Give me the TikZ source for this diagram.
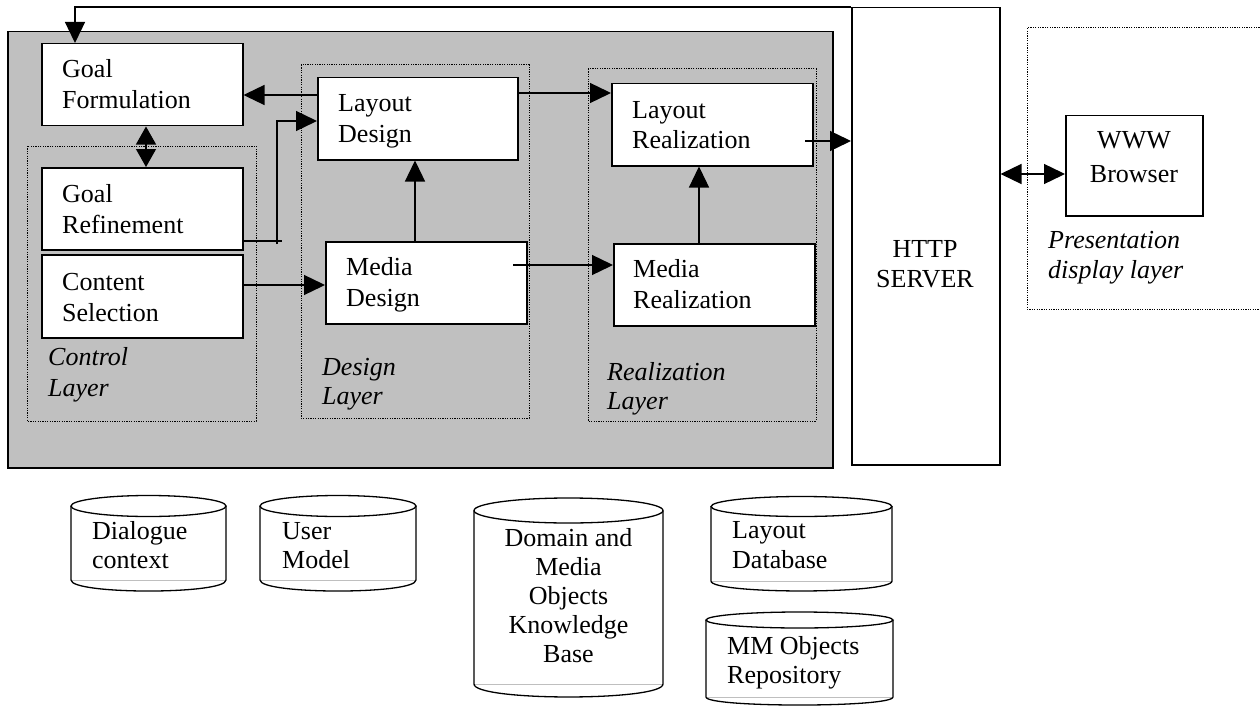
\documentclass[tikz,border=0pt]{standalone}
\usepackage{fontspec}
\setmainfont{Liberation Serif}
\usetikzlibrary{arrows.meta}
\definecolor{panel}{RGB}{192,192,192}
% two left-aligned lines, anchored at the first baseline
\newcommand\lft[3][31pt]{\vtop{\baselineskip=#1\hbox{#2}\hbox{#3}}}
% centred lines separated by \cr, anchored at the first baseline
\newcommand\ctr[2]{\vtop{\baselineskip=#1\halign{\hfil##\hfil\cr#2\crcr}}}
\tikzset{
  box/.style={draw, line width=1.5pt, fill=white, anchor=north west, inner sep=0pt},
  txt/.style={anchor=base west, inner sep=0pt, font=\fontsize{26}{31}\selectfont},
  ctxt/.style={anchor=base, inner sep=0pt, font=\fontsize{26}{31}\selectfont},
  lbl/.style={txt, font=\fontsize{26}{31}\selectfont\itshape},
  layer/.style={draw, line width=1pt, dash pattern=on 1.2pt off 1.2pt},
  conn/.style={line width=1.3pt},
  tip/.tip={Triangle[length=21pt,width=20pt]},
  shorttip/.tip={Triangle[length=18pt,width=20pt]},
  arr/.style={conn, -tip},
  darr/.style={conn, tip-tip},
  sdarr/.style={conn, shorttip-shorttip},
  cyl/.style={line width=1.3pt},
  back/.style={draw=black!25, line width=0.8pt},
}
\begin{document}
\begin{tikzpicture}[x=1pt,y=-1pt]
\useasboundingbox (0,0) rectangle (1260,706);

% generation engine panel
\node[draw, fill=panel, line width=1.5pt, anchor=north west, inner sep=0pt,
      minimum width=825pt, minimum height=436pt] (engine) at (7,31) {};

% layer frames
\draw[layer] (27,146) rectangle (256,421);
\draw[layer] (301,65) rectangle (529,418);
\draw[layer] (588,69) rectangle (816,421);
\draw[layer] (1262,28) -- (1027,28) -- (1027,309) -- (1262,309);

% components
\node[box, minimum width=201pt, minimum height=82pt] (gf) at (41,43) {};
\node[box, minimum width=201pt, minimum height=82pt] (gr) at (41,167) {};
\node[box, minimum width=201pt, minimum height=83pt] (cs) at (41,254) {};
\node[box, minimum width=200pt, minimum height=82pt] (ld) at (317,77) {};
\node[box, minimum width=201pt, minimum height=82pt] (md) at (325,241) {};
\node[box, minimum width=201pt, minimum height=82pt] (lr) at (611,83) {};
\node[box, minimum width=201pt, minimum height=82pt] (mr) at (613,243) {};
\node[box, minimum width=148pt, minimum height=457pt] (http) at (851,7) {};
\node[box, minimum width=137pt, minimum height=100pt] (www) at (1065,115) {};

% component texts
\node[txt] (gft) at (62,78) {\lft{Goal}{Formulation}};
\node[txt] (grt) at (62,202) {\lft{Goal}{Refinement}};
\node[txt] (cst) at (62,290) {\lft{Content}{Selection}};
\node[txt] (ldt) at (338,112) {\lft{Layout}{Design}};
\node[txt] (mdt) at (346,275) {\lft{Media}{Design}};
\node[txt] (lrt) at (632,118) {\lft{Layout}{Realization}};
\node[txt] (mrt) at (633,277) {\lft{Media}{Realization}};
\node[ctxt] (httpt) at (925,257) {\ctr{30pt}{HTTP\cr SERVER}};
\node[ctxt] (wwwt) at (1134,148) {\ctr{34pt}{WWW\cr Browser}};

% layer names
\node[lbl] (ctl) at (48,365) {\lft{Control}{Layer}};
\node[lbl] (dsl) at (322,375) {\lft[29pt]{Design}{Layer}};
\node[lbl] (rzl) at (607,380) {\lft[29pt]{Realization}{Layer}};
\node[lbl] (pdl) at (1048,248) {\lft[30pt]{Presentation}{display layer}};

% connectors
\coordinate (t1) at (75,7);
\draw[arr] (http.north west) -- (t1) -- (t1 |- gf.north);

\coordinate (v1) at (146,0);
\draw[sdarr] (v1 |- gf.south) -- (v1 |- gr.north);

\coordinate (h1) at (0,95);
\draw[arr] (ld.west |- h1) -- (gf.east |- h1);

\coordinate (j1) at (277,241);
\coordinate (j2) at (277,121);
\draw[conn] (gr.east |- j1) -- ([xshift=5pt]j1);
\draw[arr] ([yshift=-3pt]j1) -- (j2) -- (ld.west |- j2);

\coordinate (h2) at (0,285);
\draw[arr] (cs.east |- h2) -- (md.west |- h2);

\coordinate (v2) at (415,0);
\draw[arr] (v2 |- md.north) -- (v2 |- ld.south);

\coordinate (h3) at (0,93);
\draw[arr] (ld.east |- h3) -- (lr.west |- h3);

\coordinate (s1) at (513,265);
\draw[arr] (s1) -- (mr.west |- s1);

\coordinate (v3) at (699,0);
\draw[arr] (v3 |- mr.north) -- (v3 |- lr.south);

\coordinate (s2) at (805,141);
\draw[arr] (s2) -- (http.west |- s2);

\coordinate (h4) at (0,174);
\draw[darr] (http.east |- h4) -- (www.west |- h4);

% data stores
\begin{scope}[cyl]
  % Dialogue context
  \draw[back] (71,580) -- (226,580);
  \draw (148.5,506) ellipse [x radius=77.5pt, y radius=10.5pt];
  \draw (71,506) -- (71,580) .. controls (71,594.7) and (226,594.7) .. (226,580) -- (226,506);
  % User Model
  \draw[back] (260,580) -- (416,580);
  \draw (338,506) ellipse [x radius=78pt, y radius=10.5pt];
  \draw (260,506) -- (260,580) .. controls (260,594.7) and (416,594.7) .. (416,580) -- (416,506);
  % Domain and Media Objects Knowledge Base
  \draw[back] (474,684) -- (663,684);
  \draw (568.5,510.5) ellipse [x radius=94.5pt, y radius=12.5pt];
  \draw (474,510.5) -- (474,684) .. controls (474,701.3) and (663,701.3) .. (663,684) -- (663,510.5);
  % Layout Database
  \draw[back] (711,581) -- (892,581);
  \draw (801.5,506.5) ellipse [x radius=90.5pt, y radius=10pt];
  \draw (711,506.5) -- (711,581) .. controls (711,594.3) and (892,594.3) .. (892,581) -- (892,506.5);
  % MM Objects Repository
  \draw[back] (706,697) -- (893,697);
  \draw (799.5,620) ellipse [x radius=93.5pt, y radius=8pt];
  \draw (706,620) -- (706,697) .. controls (706,707.7) and (893,707.7) .. (893,697) -- (893,620);
\end{scope}

\node[txt] (dlg) at (92,539) {\lft[29pt]{Dialogue}{context}};
\node[txt] (usr) at (282,539) {\lft[29pt]{User}{Model}};
\node[ctxt] (dkb) at (568.5,546) {\ctr{29pt}{Domain and\cr Media\cr Objects\cr Knowledge\cr Base}};
\node[txt] (ldb) at (732,538) {\lft[30pt]{Layout}{Database}};
\node[txt] (mmr) at (727,654) {\lft[29pt]{MM Objects}{Repository}};
\end{tikzpicture}
\end{document}
